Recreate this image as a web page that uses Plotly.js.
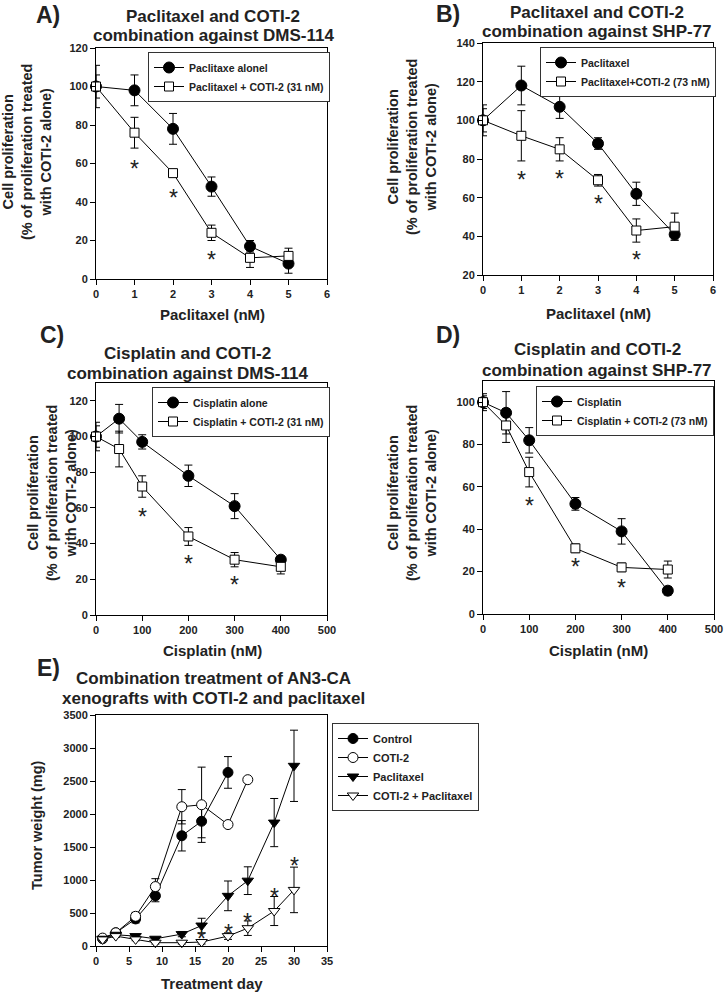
<!DOCTYPE html>
<html><head><meta charset="utf-8">
<script src="https://cdn.plot.ly/plotly-3.0.1.min.js"></script>
<style>body{margin:0;padding:0;background:#fff}#chart{width:725px;height:992px}</style>
</head><body><div id="chart"></div>
<script>
// ---------- DATA ----------
const paclDose = [0, 1, 2, 3, 4, 5];
const cisDose = [0, 50, 100, 200, 300, 400];

// Panel A (DMS-114, paclitaxel)
const aPaclAlone = [100, 98, 78, 48, 17, 8];
const aPaclAloneErr = [11, 8, 8, 5, 3, 5];
const aPaclCoti = [100, 76, 55, 24, 11, 12];
const aPaclCotiErr = [6, 8, 1, 4, 5, 4];
const aStarX = [1, 2, 3];
const aStarY = [60, 45, 13];

// Panel B (SHP-77, paclitaxel)
const bPacl = [100, 118, 107, 88, 62, 41];
const bPaclErr = [8, 10, 6, 3, 6, 3];
const bPaclCoti = [100, 92, 85, 69, 43, 45];
const bPaclCotiErr = [6, 13, 6, 3, 6, 7];
const bStarX = [1, 2, 3, 4];
const bStarY = [72, 73, 60, 31];

// Panel C (DMS-114, cisplatin)
const cCis = [100, 110, 97, 78, 61, 31];
const cCisErr = [8, 8, 4, 6, 7, 2];
const cCisCoti = [100, 93, 72, 44, 31, 27];
const cCisCotiErr = [6, 10, 6, 5, 4, 4];
const cStarX = [100, 200, 300];
const cStarY = [58, 32, 20];

// Panel D (SHP-77, cisplatin)
const dCis = [100, 95, 82, 52, 39, 11];
const dCisErr = [4, 10, 6, 3, 6, 2];
const dCisCoti = [100, 89, 67, 31, 22, 21];
const dCisCotiErr = [3, 8, 7, 2, 2, 4];
const dStarX = [100, 200, 300];
const dStarY = [54, 25, 15];

// Panel E (AN3-CA xenografts)
const eControlDay = [1, 3, 6, 9, 13, 16, 20];
const eControl = [110, 200, 410, 760, 1670, 1890, 2630];
const eControlErr = [20, 30, 60, 90, 230, 250, 240];
const eCotiDay = [1, 3, 6, 9, 13, 16, 20, 23];
const eCoti = [120, 200, 450, 900, 2110, 2140, 1840, 2520];
const eCotiErr = [20, 30, 60, 120, 260, 570, 0, 0];
const ePaclDay = [1, 3, 6, 9, 13, 16, 20, 23, 27, 30];
const ePacl = [110, 170, 150, 110, 180, 310, 760, 990, 1870, 2730];
const ePaclErr = [20, 20, 20, 20, 40, 110, 225, 210, 365, 540];
const eComboDay = [1, 3, 6, 9, 13, 16, 20, 23, 27, 30];
const eCombo = [100, 150, 100, 50, 50, 60, 150, 270, 530, 850];
const eComboErr = [10, 20, 20, 20, 20, 30, 50, 110, 220, 345];
const eStarX = [16, 20, 23, 27, 30];
const eStarY = [190, 290, 450, 830, 1300];

// ---------- LAYOUT HELPERS ----------
const W = 725, H = 992;
const FONT = 'Liberation Sans, Arial, Helvetica, sans-serif';
const px = x => x / W;
const py = y => 1 - y / H;

function errObj(arr) {
  return {type: 'data', array: arr, visible: true, color: '#000', thickness: 1, width: 4};
}
function series(x, y, err, xa, ya, name, legend, symbol, fill, size) {
  return {
    x: x, y: y, type: 'scatter', mode: 'lines+markers', name: name,
    xaxis: xa, yaxis: ya, legend: legend, cliponaxis: false,
    line: {color: '#000', width: 1},
    marker: {symbol: symbol, size: size, color: fill, line: {color: '#000', width: 1}},
    error_y: errObj(err)
  };
}
function starNotes(xs, ys, xa, ya) {
  return xs.map((x, i) => ({
    x: x, y: ys[i], xref: xa, yref: ya, text: '*', showarrow: false,
    xanchor: 'center', yanchor: 'middle', yshift: -6,
    font: {family: FONT, size: 23, color: '#222'}
  }));
}

const traces = [
  series(paclDose, aPaclAlone, aPaclAloneErr, 'x', 'y', 'Paclitaxe alonel', 'legend', 'circle', '#000', 11),
  series(paclDose, aPaclCoti, aPaclCotiErr, 'x', 'y', 'Paclitaxel + COTI-2 (31 nM)', 'legend', 'square', '#fff', 9),
  series(paclDose, bPacl, bPaclErr, 'x2', 'y2', 'Paclitaxel', 'legend2', 'circle', '#000', 11),
  series(paclDose, bPaclCoti, bPaclCotiErr, 'x2', 'y2', 'Paclitaxel+COTI-2 (73 nM)', 'legend2', 'square', '#fff', 9),
  series(cisDose, cCis, cCisErr, 'x3', 'y3', 'Cisplatin alone', 'legend3', 'circle', '#000', 11),
  series(cisDose, cCisCoti, cCisCotiErr, 'x3', 'y3', 'Cisplatin + COTI-2 (31 nM)', 'legend3', 'square', '#fff', 9),
  series(cisDose, dCis, dCisErr, 'x4', 'y4', 'Cisplatin', 'legend4', 'circle', '#000', 11),
  series(cisDose, dCisCoti, dCisCotiErr, 'x4', 'y4', 'Cisplatin + COTI-2 (73 nM)', 'legend4', 'square', '#fff', 9),
  series(eControlDay, eControl, eControlErr, 'x5', 'y5', 'Control', 'legend5', 'circle', '#000', 10),
  series(eCotiDay, eCoti, eCotiErr, 'x5', 'y5', 'COTI-2', 'legend5', 'circle', '#fff', 10),
  series(ePaclDay, ePacl, ePaclErr, 'x5', 'y5', 'Paclitaxel', 'legend5', 'triangle-down', '#000', 10),
  series(eComboDay, eCombo, eComboErr, 'x5', 'y5', 'COTI-2 + Paclitaxel', 'legend5', 'triangle-down', '#fff', 10)
];

function xax(x0, x1, range, dtick, anchor) {
  return {domain: [px(x0), px(x1)], range: range, dtick: dtick, tick0: 0, anchor: anchor,
    showline: true, mirror: true, linecolor: '#000', linewidth: 1, ticks: 'outside', ticklen: 5,
    tickcolor: '#000', showgrid: false, zeroline: false,
    tickfont: {family: FONT, size: 11, color: '#222', weight: 'bold'}};
}
function yax(y0, y1, range, dtick, anchor) {
  return {domain: [py(y1), py(y0)], range: range, dtick: dtick, tick0: 0, anchor: anchor,
    showline: true, mirror: true, linecolor: '#000', linewidth: 1, ticks: 'outside', ticklen: 5,
    tickcolor: '#000', showgrid: false, zeroline: false,
    tickfont: {family: FONT, size: 11, color: '#222', weight: 'bold'}};
}
function leg(x, y, size) {
  return {x: px(x), y: py(y), xanchor: 'left', yanchor: 'top', bgcolor: '#fff',
    bordercolor: '#333', borderwidth: 1, itemwidth: 30, tracegroupgap: 0,
    font: {family: FONT, size: size || 10.5, color: '#222', weight: 'bold'}};
}
function txt(x, y, text, size, angle) {
  return {xref: 'paper', yref: 'paper', x: px(x), y: py(y), text: text, showarrow: false,
    xanchor: 'center', yanchor: 'middle', textangle: angle || 0,
    font: {family: FONT, size: size, color: '#222', weight: 'bold'}};
}
const ytitle = 'Cell proliferation<br>(% of proliferation treated<br>with COTI-2 alone)';

const annotations = [
  txt(48, 15, 'A)', 23), txt(213, 17, 'Paclitaxel and COTI-2', 17), txt(213, 36, 'combination against DMS-114', 17),
  txt(448, 14, 'B)', 23), txt(597, 13, 'Paclitaxel and COTI-2', 17), txt(597, 31, 'combination against SHP-77', 17),
  txt(52, 335, 'C)', 23), txt(187, 353, 'Cisplatin and COTI-2', 17), txt(187, 373, 'combination against DMS-114', 17),
  txt(448, 335, 'D)', 23), txt(597, 350, 'Cisplatin and COTI-2', 17), txt(597, 370, 'combination against SHP-77', 17),
  txt(48, 668, 'E)', 23), txt(213, 678, 'Combination treatment of AN3-CA', 17), txt(213, 698, 'xenografts with COTI-2 and paclitaxel', 17),
  txt(212, 314, 'Paclitaxel (nM)', 15), txt(598, 313, 'Paclitaxel (nM)', 15),
  txt(212, 650, 'Cisplatin (nM)', 15), txt(598, 650, 'Cisplatin (nM)', 15),
  txt(212, 983, 'Treatment day', 15),
  txt(27, 152, ytitle, 14.5, -90), txt(412, 147, ytitle, 14.5, -90),
  txt(52, 493, ytitle, 14.5, -90), txt(412, 493, ytitle, 14.5, -90),
  txt(37, 825, 'Tumor weight (mg)', 14.5, -90)
].concat(
  starNotes(aStarX, aStarY, 'x', 'y'),
  starNotes(bStarX, bStarY, 'x2', 'y2'),
  starNotes(cStarX, cStarY, 'x3', 'y3'),
  starNotes(dStarX, dStarY, 'x4', 'y4'),
  starNotes(eStarX, eStarY, 'x5', 'y5')
);

const layout = {
  width: W, height: H, margin: {l: 0, r: 0, t: 0, b: 0},
  paper_bgcolor: '#fff', plot_bgcolor: '#fff', showlegend: true,
  xaxis: xax(96, 327, [0, 6], 1, 'y'),
  yaxis: yax(48, 279, [0, 120], 20, 'x'),
  xaxis2: xax(483, 713, [0, 6], 1, 'y2'),
  yaxis2: yax(43, 275, [20, 140], 20, 'x2'),
  xaxis3: xax(96, 327, [0, 500], 100, 'y3'),
  yaxis3: Object.assign(yax(383, 615, [0, 130], 20, 'x3'), {tickvals: [0, 20, 40, 60, 80, 100, 120]}),
  xaxis4: xax(483, 714, [0, 500], 100, 'y4'),
  yaxis4: Object.assign(yax(381, 614, [0, 110], 20, 'x4'), {tickvals: [0, 20, 40, 60, 80, 100]}),
  xaxis5: xax(96, 327, [0, 35], 5, 'y5'),
  yaxis5: yax(715, 946, [0, 3500], 500, 'x5'),
  legend: leg(148, 52),
  legend2: leg(540, 47),
  legend3: leg(152, 387),
  legend4: leg(536, 386),
  legend5: leg(332, 723, 11),
  annotations: annotations
};

Plotly.newPlot('chart', traces, layout, {staticPlot: true, displayModeBar: false});
</script>
</body></html>
